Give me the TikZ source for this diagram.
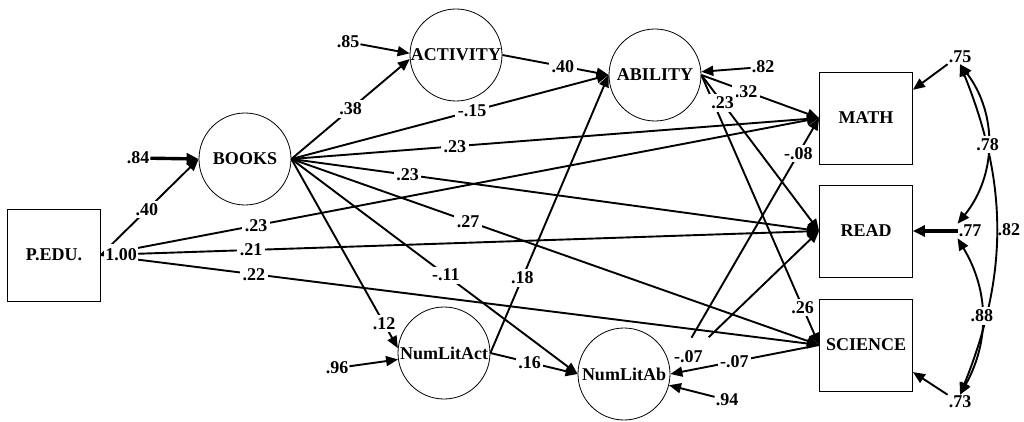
\documentclass[tikz,border=0pt]{standalone}
\usepackage{fontspec}
\setmainfont{Liberation Serif}
\usetikzlibrary{arrows.meta}

\tikzset{
    latent/.style={circle, draw, line width=0.8pt, minimum size=92pt, inner sep=0pt},
    observed/.style={rectangle, draw, line width=0.8pt, minimum width=93pt, minimum height=92pt},
    effect/.style={line width=1.9pt, -{Triangle[length=12pt,width=10pt]}},
    heavy/.style={line width=3.4pt, -{Triangle[length=12pt,width=11pt]}},
    corr/.style={line width=1.9pt, {Triangle[length=12pt,width=10pt]}-{Triangle[length=12pt,width=10pt]}},
    coef/.style={fill=white, inner sep=2.5pt},
    err/.style={inner sep=1pt},
}

\begin{document}
\begin{tikzpicture}[x=1pt,y=-1pt,font=\fontsize{18}{20}\selectfont\bfseries]
    \useasboundingbox (0,0) rectangle (1024,422);
    \node[observed] (pedu) at (54,255) {P.EDU.};
    \node[latent] (books) at (245,159) {BOOKS};
    \node[latent] (activity) at (456,55) {ACTIVITY};
    \node[latent] (ability) at (655,75) {ABILITY};
    \node[latent] (nlact) at (444,353) {NumLitAct};
    \node[latent] (nlab) at (624,374) {NumLitAb};
    \node[observed] (math) at (866,118) {MATH};
    \node[observed] (read) at (866,231) {READ};
    \node[observed] (sci) at (866,345) {SCIENCE};

    \node[err] (e84) at (138,158) {.84};
    \node[err] (e85) at (348,42) {.85};
    \node[err] (e82) at (763,67) {.82};
    \node[err] (e96) at (337,368) {.96};
    \node[err] (e94) at (727,400) {.94};
    \node[err] (e75) at (960,57) {.75};
    \node[err] (e77) at (970,231) {.77};
    \node[err] (e73) at (960,402) {.73};

    \draw[heavy] (e84) -- (books.west);
    \draw[effect] (e85) -- (activity.178);
    \draw[effect] (e82) -- (ability.4);
    \draw[effect] (e96) -- (nlact.188);
    \draw[effect] (e94) -- (nlab.-14);
    \draw[effect] (e75.south west) -- (math.31);
    \draw[heavy] (e77) -- (read.east);
    \draw[effect] (e73.north west) -- (sci.-30);

    \draw[effect] (pedu.east) -- node[coef,pos=.47] {.40} (books.west);
    \draw[effect] (pedu.east) -- node[coef,pos=.216] {.23} (math.west);
    \draw[effect] (pedu.east) -- node[coef,pos=.209] {.21} (read.west);
    \draw[effect] (pedu.east) -- node[coef,pos=.213] {.22} (sci.west);
    \node[coef,inner xsep=1.5pt,inner ysep=5pt] (pvar) at (121,255) {1.00};

    \draw[effect] (books.east) -- node[coef,pos=.5] {.38} (activity.185);
    \draw[effect] (books.east) -- node[coef,pos=.57] {-.15} (ability.west);
    \draw[effect] (books.east) -- node[coef,pos=.31] {.23} (math.west);
    \draw[effect] (books.east) -- node[coef,pos=.22] {.23} (read.west);
    \draw[effect] (books.east) -- node[coef,pos=.335] {.27} (sci.west);
    \draw[effect] (books.east) -- node[coef,pos=.54] {-.11} (nlab.west);
    \draw[effect] (books.east) -- node[coef,pos=.87] {.12} (nlact.174);

    \draw[effect] (activity.east) -- node[coef,pos=.57] {.40} (ability.west);
    \draw[effect] (nlact.east) -- node[coef,pos=.27] {.18} (ability.west);
    \draw[effect] (nlact.east) -- node[coef,pos=.45] {.16} (nlab.west);

    \draw[effect] (ability.east) -- node[coef,pos=.86] {.26} (sci.west);
    \draw[effect] (ability.east) -- node[coef,pos=.38] {.32} (math.west);
    \draw[effect] (ability.east) -- node[coef,pos=.18] {.23} (read.west);

    \draw[effect,shorten <=42pt] (nlab.east) -- node[coef,pos=.86] {-.08} (math.west);
    \draw[effect,shorten <=53pt] (nlab.east) -- node[coef,pos=.12] {-.07} (read.west);
    \draw[effect] (sci.west) -- node[coef,pos=.57] {-.07} (nlab.east);

    \draw[corr] (e75.south) to[bend left=22] node[pos=.5,right,inner sep=.5pt] {.82} (e73.north);
    \draw[corr] (e75.south) to[bend left=38] node[coef,pos=.5] {.78} (e77.north west);
    \draw[corr] (e77.south west) to[bend left=30] node[coef,pos=.5] {.88} (e73.north);
\end{tikzpicture}
\end{document}
